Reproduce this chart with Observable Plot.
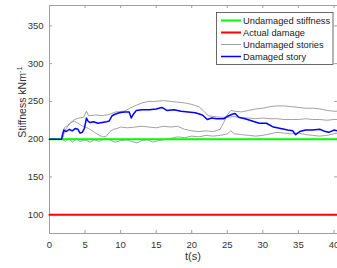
<!DOCTYPE html>
<html><head><meta charset="utf-8">
<script src="https://cdn.jsdelivr.net/npm/d3@7"></script>
<script src="https://cdn.jsdelivr.net/npm/@observablehq/plot@0.6"></script>
<style>body{margin:0;background:#fff}</style>
</head><body>
<div id="chart"></div>
<script>
const xTicks = [0,5,10,15,20,25,30,35,40];
const yTicks = [100,150,200,250,300,350];
const xDomain = [0, 40.5];
const yDomain = [75, 377];

const legendLabels = ["Undamaged stiffness","Actual damage","Undamaged stories","Damaged story"];
const legendColors = ["#00ff00","#ff0000","#8a8a8a","#0000ff"];

const undamagedStiffness = [[0,200],[40.5,200]];
const actualDamage = [[0,100],[40.5,100]];

const damagedStory = [[0,200],[1.7,200],[1.8,205],[2.0,212],[2.3,210],[2.8,213],[3.2,211],[3.6,214],[4.0,213],[4.3,208],[4.6,209],[4.9,214],[5.2,228],[5.4,224],[5.7,222],[6.2,223],[6.8,221],[7.4,222],[8.0,223],[8.4,224],[8.8,231],[9.2,233],[9.8,235],[10.5,236],[11.2,236],[11.5,228],[11.8,233],[12.2,238],[13,239],[14,239],[15,240],[15.8,242],[16.5,238],[17.5,239],[18.5,237],[19.5,236],[20.5,235],[21.5,232],[22.2,226],[22.8,228],[23.5,227],[24.5,227],[25.2,231],[25.7,233],[26.1,234],[26.6,229],[27.5,227],[28.5,224],[29.5,221],[30.5,221],[31.5,216],[32.5,214],[33.5,212],[34.2,211],[34.6,206],[35.2,210],[36,212],[37,212],[38,213],[38.8,210],[39.3,209],[40,212],[40.5,211]];

const storyA = [[0,200],[1.8,200],[2.2,212],[2.8,220],[3.5,226],[4.2,228],[4.8,229],[5.2,237],[5.5,231],[6.5,232],[7.5,231],[8.5,233],[9.3,236],[10.5,237],[11.3,241],[12,244],[13,248],[14,250],[15,250],[16,251],[17,250],[18,249],[19,248],[20,246],[21,243],[21.6,238],[22.3,231],[23,230],[24,229],[25,229],[26,230],[27,228],[28,228],[29,227],[30,228],[31,227],[32,227],[33,226],[34,226],[35,226],[36,227],[37,226],[38,226],[39,225],[40,226],[40.5,226]];

const storyB = [[0,200],[1.8,200],[2.1,215],[2.5,218],[3,222],[3.5,224],[4,221],[4.5,218],[5,216],[5.5,214],[6,211],[6.5,208],[7,205],[7.5,203],[8,204],[8.5,210],[9,213],[9.5,214],[10,216],[11,215],[12,216],[13,217],[14,216],[15,215],[16,217],[17,216],[18,217],[19,213],[20,211],[21,210],[22,211],[23,210],[24,213],[24.5,222],[25,232],[25.5,238],[26,237],[27,236],[28,238],[29,240],[30,241],[31,243],[32,244],[33,244],[34,243],[35,242],[36,241],[37,241],[38,240],[39,238],[40,237],[40.5,237]];

const storyC = [[0,200],[1.8,200],[2.2,197],[2.7,201],[3.2,196],[3.8,200],[4.3,197],[5,199],[5.7,196],[6.3,199],[7,197],[7.8,201],[8.5,199],[9.2,196],[10,198],[10.8,199],[11.5,197],[12.3,195],[13,198],[13.8,199],[14.5,196],[15.3,198],[16,199],[17,201],[18,203],[19,202],[20,204],[21,203],[22,205],[23,204],[24,205],[25,207],[25.5,211],[26,207],[27,206],[28,205],[29,204],[30,205],[31,207],[32,209],[33,208],[34,207],[35,208],[36,206],[37,205],[38,204],[39,205],[40,207],[40.5,208]];

const W = 337, H = 268, mL = 49, mT = 5, mB = 35, mR = 0;
const fw = W - mL - mR, fh = H - mT - mB;
const axisGray = "#a0a0a0";
const tickLen = 3;

const lineOpts = (stroke, sw) => ({x: d => d[0], y: d => d[1], stroke, strokeWidth: sw});

const chart = Plot.plot({
  width: W, height: H,
  marginLeft: mL, marginTop: mT, marginBottom: mB, marginRight: mR,
  style: {fontFamily: "'Liberation Sans', Arial, sans-serif", fontSize: "9.5px", color: "#333", background: "white"},
  x: {domain: xDomain, ticks: xTicks, tickSize: 0, tickPadding: 8, label: null, tickFormat: d => String(d)},
  y: {domain: yDomain, ticks: yTicks, tickSize: 0, tickPadding: 6, label: null, tickFormat: d => String(d)},
  marks: [
    Plot.ruleY([yDomain[0]], {stroke: axisGray}),
    Plot.ruleY([yDomain[1]], {stroke: axisGray}),
    Plot.ruleX([xDomain[0]], {stroke: axisGray}),
    Plot.ruleX(xTicks, {x: d => d, insetTop: fh - tickLen, stroke: axisGray}),
    Plot.ruleX(xTicks, {x: d => d, insetBottom: fh - tickLen, stroke: axisGray}),
    Plot.ruleY(yTicks, {y: d => d, insetRight: fw - tickLen, stroke: axisGray}),
    Plot.ruleY(yTicks, {y: d => d, insetLeft: fw - tickLen, stroke: axisGray}),
    Plot.line(storyA, lineOpts(legendColors[2], 0.8)),
    Plot.line(storyB, lineOpts(legendColors[2], 0.8)),
    Plot.line(storyC, lineOpts(legendColors[2], 0.8)),
    Plot.line(undamagedStiffness, lineOpts(legendColors[0], 2)),
    Plot.line(actualDamage, lineOpts(legendColors[1], 2)),
    Plot.line(damagedStory, lineOpts(legendColors[3], 1.5))
  ]
});

const svg = d3.select(chart);
// axis labels
svg.append("text")
  .attr("x", mL + fw / 2).attr("y", 260)
  .attr("text-anchor", "middle")
  .attr("font-size", "11px").attr("fill", "#333")
  .text("t(s)");
const yl = svg.append("text")
  .attr("transform", `translate(25.5,${mT + fh / 2 - 17}) rotate(-90)`)
  .attr("text-anchor", "middle")
  .attr("font-size", "10.5px").attr("fill", "#333");
yl.append("tspan").text("Stiffness kNm");
yl.append("tspan").attr("dy", "-0.45em").attr("font-size", "7.5px").text("-1");

// legend
const lg = svg.append("g").attr("text-anchor", "start");
lg.append("rect").attr("x", 216.5).attr("y", 12.5).attr("width", 116.5).attr("height", 52)
  .attr("fill", "white").attr("stroke", "#444").attr("stroke-width", 0.8);
const rowY = [20.5, 32.5, 44.5, 56.5];
const rowW = [2, 2, 0.8, 1.5];
legendLabels.forEach((lab, i) => {
  lg.append("line").attr("x1", 221).attr("x2", 241).attr("y1", rowY[i]).attr("y2", rowY[i])
    .attr("stroke", legendColors[i]).attr("stroke-width", rowW[i]);
  lg.append("text").attr("x", 243).attr("y", rowY[i]).attr("dy", "0.35em")
    .attr("text-anchor", "start")
    .attr("font-size", "9.3px").attr("fill", "#222").text(lab);
});

document.getElementById("chart").appendChild(chart);
</script>
</body></html>
